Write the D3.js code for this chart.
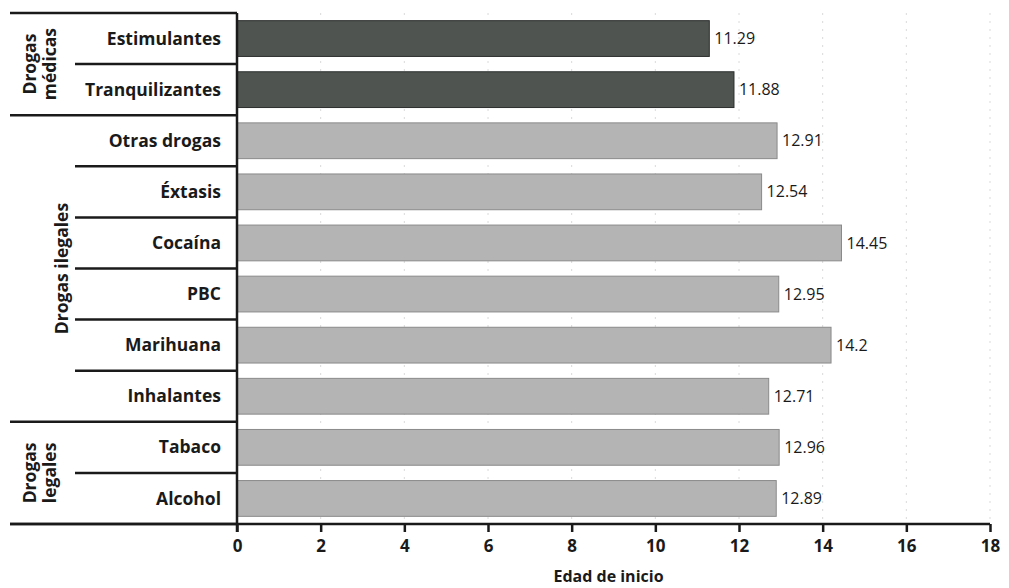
<!DOCTYPE html>
<html>
<head>
<meta charset="utf-8">
<script src="https://cdn.jsdelivr.net/npm/d3@7"></script>
<style>
  body { margin: 0; background: #fff; }
  svg { display: block; font-family: "Open Sans", sans-serif; }
</style>
</head>
<body>
<svg class="chart" width="1009" height="588"></svg>
<script>
// data
const drugs = ["Estimulantes", "Tranquilizantes", "Otras drogas", "Éxtasis", "Cocaína", "PBC", "Marihuana", "Inhalantes", "Tabaco", "Alcohol"];
const ages = [11.29, 11.88, 12.91, 12.54, 14.45, 12.95, 14.2, 12.71, 12.96, 12.89];
const groupLabels = [["Drogas", "médicas"], ["Drogas ilegales"], ["Drogas", "legales"]];
const groupSizes = [2, 6, 2];
const xTicks = [0, 2, 4, 6, 8, 10, 12, 14, 16, 18];
const xTitle = "Edad de inicio";

const svg = d3.select(".chart");
const mLeft = 237, mRight = 990, mTop = 13, mBottom = 524;

const x = d3.scaleLinear().domain([0, 18]).range([mLeft, mRight]);
const y = d3.scaleBand().domain(drugs).range([mTop, mBottom]).paddingInner(0.3).paddingOuter(0.15);
const step = y.step();

// group index for each drug
const groupOf = [];
groupSizes.forEach((n, g) => { for (let i = 0; i < n; i++) groupOf.push(g); });

/*
      grid
*/
svg.append("g")
  .selectAll("line")
  .data(xTicks.slice(1))
  .join("line")
  .attr("x1", (d) => x(d)).attr("x2", (d) => x(d))
  .attr("y1", mTop).attr("y2", mBottom)
  .attr("stroke", "#dadada")
  .attr("stroke-width", 1)
  .attr("stroke-dasharray", "2,6");

/*
      bars
*/
svg.append("g")
  .selectAll("rect")
  .data(drugs)
  .join("rect")
  .attr("x", mLeft)
  .attr("y", (d) => y(d))
  .attr("width", (d, i) => x(ages[i]) - mLeft)
  .attr("height", y.bandwidth())
  .attr("fill", (d, i) => (groupOf[i] === 0 ? "#4f5451" : "#b4b4b4"))
  .attr("stroke", (d, i) => (groupOf[i] === 0 ? "#2b2e2c" : "#8a8a8a"))
  .attr("stroke-width", 1);

svg.append("g")
  .selectAll("text")
  .data(drugs)
  .join("text")
  .attr("x", (d, i) => x(ages[i]) + 5)
  .attr("y", (d) => y(d) + y.bandwidth() / 2)
  .attr("dy", "0.35em")
  .attr("font-size", "16px")
  .attr("fill", "#1a1a1a")
  .text((d, i) => ages[i]);

/*
      row labels and separators
*/
svg.append("g")
  .selectAll("text")
  .data(drugs)
  .join("text")
  .attr("x", mLeft - 16)
  .attr("y", (d) => y(d) + y.bandwidth() / 2)
  .attr("dy", "0.35em")
  .attr("text-anchor", "end")
  .attr("font-size", "17.5px")
  .attr("font-weight", 700)
  .attr("fill", "#1a1a1a")
  .text((d) => d);

// boundaries: full lines at group edges, short ones inside groups
const bounds = [];
let acc = 0;
bounds.push({ i: 0, full: true });
groupSizes.forEach((n) => {
  for (let k = 1; k < n; k++) bounds.push({ i: acc + k, full: false });
  acc += n;
  bounds.push({ i: acc, full: true });
});

svg.append("g")
  .selectAll("line")
  .data(bounds)
  .join("line")
  .attr("x1", (d) => (d.full ? 10 : 75))
  .attr("x2", mLeft)
  .attr("y1", (d) => mTop + d.i * step)
  .attr("y2", (d) => mTop + d.i * step)
  .attr("stroke", "#1a1a1a")
  .attr("stroke-width", 2.5);

// group labels (rotated)
let start = 0;
groupSizes.forEach((n, g) => {
  const cy = mTop + (start + n / 2) * step;
  const lines = groupLabels[g];
  const cx = lines.length === 1 ? 62 : 40;
  const t = svg.append("text")
    .attr("transform", `translate(${cx},${cy}) rotate(-90)`)
    .attr("text-anchor", "middle")
    .attr("font-size", "17.5px")
    .attr("font-weight", 700)
    .attr("fill", "#1a1a1a");
  lines.forEach((s, k) => {
    t.append("tspan")
      .attr("x", 0)
      .attr("y", (k - (lines.length - 1) / 2) * 20)
      .attr("dy", "0.35em")
      .text(s);
  });
  start += n;
});

/*
      axes
*/
svg.append("line")
  .attr("x1", mLeft).attr("x2", mLeft)
  .attr("y1", mTop).attr("y2", mBottom + 8)
  .attr("stroke", "#1a1a1a")
  .attr("stroke-width", 2.5);

const xAxis = svg.append("g")
  .attr("transform", `translate(0,${mBottom})`)
  .call(d3.axisBottom(x).tickValues(xTicks).tickSize(8).tickPadding(8).tickSizeOuter(0));

xAxis.select(".domain").attr("stroke", "#1a1a1a").attr("stroke-width", 2.5).attr("d", `M${10},0H${mRight}`);
xAxis.selectAll(".tick line").attr("stroke", "#1a1a1a").attr("stroke-width", 2.5);
xAxis.selectAll(".tick text")
  .attr("font-family", "Open Sans, sans-serif")
  .attr("font-size", "17px")
  .attr("font-weight", 700)
  .attr("fill", "#1a1a1a");

svg.append("text")
  .attr("x", (mLeft + mRight) / 2 - 5)
  .attr("y", 582)
  .attr("text-anchor", "middle")
  .attr("font-size", "16px")
  .attr("font-weight", 700)
  .attr("fill", "#1a1a1a")
  .text(xTitle);
</script>
</body>
</html>
